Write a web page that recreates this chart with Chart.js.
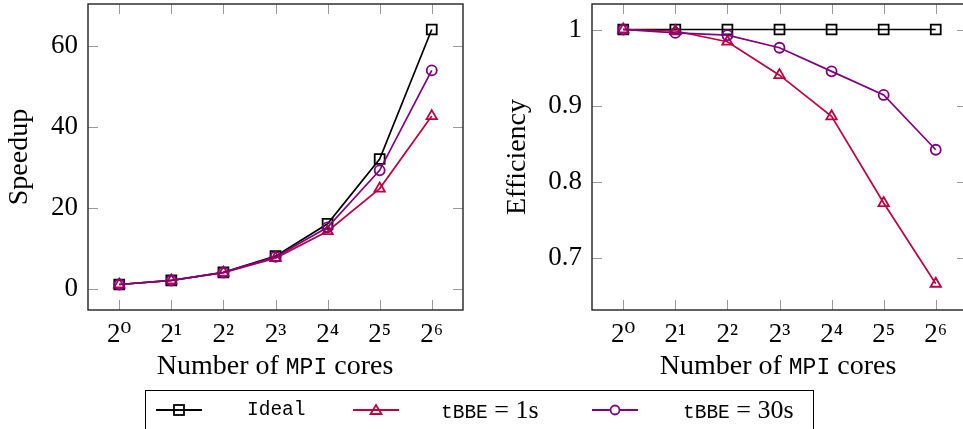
<!DOCTYPE html>
<html>
<head>
<meta charset="utf-8">
<script src="https://cdn.jsdelivr.net/npm/chart.js@4/dist/chart.umd.min.js"></script>
<style>
  html, body { margin: 0; padding: 0; background: #fff; overflow: hidden; width: 963px; height: 429px; position: relative; }
  .cv { position: absolute; top: 0; }
  .serif { font-family: "Liberation Serif", "DejaVu Serif", serif; }
  .mono { font-family: "Liberation Mono", "DejaVu Sans Mono", monospace; }
  .xt { position: absolute; top: 349px; font-size: 28px; line-height: 32px; white-space: nowrap; transform: translateX(-50%); color: #000; }
  .xt .mono { font-size: 23px; }
  #legend { position: absolute; left: 145px; top: 390px; width: 669px; height: 50px; border: 1px solid #000; box-sizing: border-box; }
  .lg { position: absolute; top: 0; height: 38px; line-height: 38px; white-space: nowrap; font-size: 26px; }
  .lg .mono, .lg.mono { font-size: 19.5px; }
  .sw { position: absolute; top: 11px; }
</style>
</head>
<body>
<canvas id="c1" class="cv" style="left:0px"></canvas>
<canvas id="c2" class="cv" style="left:504px"></canvas>

<div class="xt serif" style="left:275px">Number of <span class="mono">MPI</span> cores</div>
<div class="xt serif" style="left:778px">Number of <span class="mono">MPI</span> cores</div>

<div id="legend">
  <svg class="sw" style="left:9px" width="48" height="16"><line x1="1" y1="8" x2="47" y2="8" stroke="#000" stroke-width="1.8"/><rect x="19" y="3" width="10" height="10" fill="none" stroke="#000" stroke-width="1.8"/></svg>
  <div class="lg mono" style="left:101px">Ideal</div>
  <svg class="sw" style="left:206px" width="48" height="16"><line x1="1" y1="8" x2="47" y2="8" stroke="#bf0040" stroke-width="1.8"/><polygon points="24,3 29.5,12 18.5,12" fill="none" stroke="#bf0040" stroke-width="1.8"/></svg>
  <div class="lg serif" style="left:295px"><span class="mono">tBBE</span> = 1s</div>
  <svg class="sw" style="left:445px" width="48" height="16"><line x1="1" y1="8" x2="47" y2="8" stroke="#800080" stroke-width="1.8"/><circle cx="24" cy="8" r="4.5" fill="#fff" stroke="#800080" stroke-width="1.8"/></svg>
  <div class="lg serif" style="left:537px"><span class="mono">tBBE</span> = 30s</div>
</div>

<script>
// ---- data ----
const exponents = [0, 1, 2, 3, 4, 5, 6];           // number of MPI cores = 2^k
const xTickLabels = ['2\u2070', '2\u00B9', '2\u00B2', '2\u00B3', '2\u2074', '2\u2075', '2\u2076'];
const speedupTicks = [0, 20, 40, 60];
const efficiencyTicks = [0.7, 0.8, 0.9, 1];

const speedupIdeal = [1, 2, 4, 8, 16, 32, 64];
const speedup1s    = [1, 1.996, 3.94, 7.52, 14.17, 24.7, 42.6];
const speedup30s   = [1, 1.991, 3.97, 7.81, 15.12, 29.2, 53.9];

const effIdeal = [1, 1, 1, 1, 1, 1, 1];
const eff1s    = [1, 0.998, 0.984, 0.940, 0.886, 0.772, 0.666];
const eff30s   = [1, 0.9955, 0.9925, 0.976, 0.945, 0.914, 0.842];

const seriesNames = ['Ideal', 'tBBE = 1s', 'tBBE = 30s'];

// ---- styling ----
const SERIF = '"Liberation Serif", "DejaVu Serif", serif';
const BLACK = '#000000', RED = '#bf0040', VIOLET = '#800080';

const pts = (vals) => exponents.map((e, i) => ({ x: e, y: vals[i] }));

function ds(label, vals, color, style, radius, order) {
  return {
    label, data: pts(vals), borderColor: color, backgroundColor: 'rgba(0,0,0,0)',
    borderWidth: 1.7, pointStyle: style, pointRadius: radius, pointHoverRadius: radius,
    pointBorderWidth: 1.8, pointBorderColor: color, pointBackgroundColor: 'rgba(0,0,0,0)',
    tension: 0, order, clip: false
  };
}

const framePlugin = {
  id: 'frame',
  beforeDatasetsDraw(chart) {
    const { ctx, chartArea: a, scales: { x, y } } = chart;
    ctx.save();
    ctx.strokeStyle = '#9a9a9a';
    ctx.lineWidth = 1;
    const L = 10;
    x.ticks.forEach(t => {
      const p = Math.round(x.getPixelForValue(t.value)) + 0.5;
      ctx.beginPath(); ctx.moveTo(p, a.bottom); ctx.lineTo(p, a.bottom - L); ctx.stroke();
      ctx.beginPath(); ctx.moveTo(p, a.top); ctx.lineTo(p, a.top + L); ctx.stroke();
    });
    y.ticks.forEach(t => {
      const p = Math.round(y.getPixelForValue(t.value)) + 0.5;
      ctx.beginPath(); ctx.moveTo(a.left, p); ctx.lineTo(a.left + L, p); ctx.stroke();
      ctx.beginPath(); ctx.moveTo(a.right, p); ctx.lineTo(a.right - L, p); ctx.stroke();
    });
    ctx.restore();
  },
  afterDraw(chart) {
    const { ctx, chartArea: a } = chart;
    ctx.save();
    ctx.strokeStyle = '#222';
    ctx.lineWidth = 1.4;
    ctx.strokeRect(a.left, a.top, a.right - a.left, a.bottom - a.top);
    ctx.restore();
  }
};

function makeChart(id, datasets, yMin, yMax, yTicks, yTitle, titlePad) {
  const cv = document.getElementById(id);
  cv.style.width = '480px'; cv.style.height = '390px';
  return new Chart(cv, {
    type: 'line',
    data: { datasets },
    plugins: [framePlugin],
    options: {
      responsive: false, animation: false, devicePixelRatio: 1,
      layout: { autoPadding: false, padding: { top: 4, right: 17, left: 0, bottom: 0 } },
      plugins: { legend: { display: false }, tooltip: { enabled: false } },
      scales: {
        x: {
          type: 'linear', min: -0.6, max: 6.6,
          grid: { display: false, drawTicks: false }, border: { display: false },
          afterBuildTicks: s => { s.ticks = exponents.map(v => ({ value: v })); },
          afterFit: s => { s.height = 80; s.paddingLeft = 0; s.paddingRight = 0; },
          ticks: {
            color: '#000', padding: 9, maxRotation: 0, autoSkip: false,
            font: { family: SERIF, size: 27 },
            callback: (v) => xTickLabels[exponents.indexOf(v)]
          }
        },
        y: {
          type: 'linear', min: yMin, max: yMax,
          grid: { display: false, drawTicks: false }, border: { display: false },
          afterBuildTicks: s => { s.ticks = yTicks.map(v => ({ value: v })); },
          afterFit: s => { s.width = 88; s.paddingTop = 0; s.paddingBottom = 0; },
          ticks: {
            color: '#000', padding: 10, autoSkip: false,
            font: { family: SERIF, size: 27 },
            callback: (v) => String(v)
          },
          title: {
            display: true, text: yTitle, color: '#000',
            font: { family: SERIF, size: 28, lineHeight: 1.0 },
            padding: { top: titlePad, bottom: 0 }
          }
        }
      }
    }
  });
}

makeChart('c1', [
  ds(seriesNames[0], speedupIdeal, BLACK, 'rect', 7, 2),
  ds(seriesNames[1], speedup1s, RED, 'triangle', 6, 1),
  ds(seriesNames[2], speedup30s, VIOLET, 'circle', 5, 0)
], -5.3, 70.3, speedupTicks, 'Speedup', 6);

makeChart('c2', [
  ds(seriesNames[0], effIdeal, BLACK, 'rect', 7, 2),
  ds(seriesNames[1], eff1s, RED, 'triangle', 6, 1),
  ds(seriesNames[2], eff30s, VIOLET, 'circle', 5, 0)
], 0.6315, 1.0335, efficiencyTicks, 'Efficiency', 0);
</script>
</body>
</html>
